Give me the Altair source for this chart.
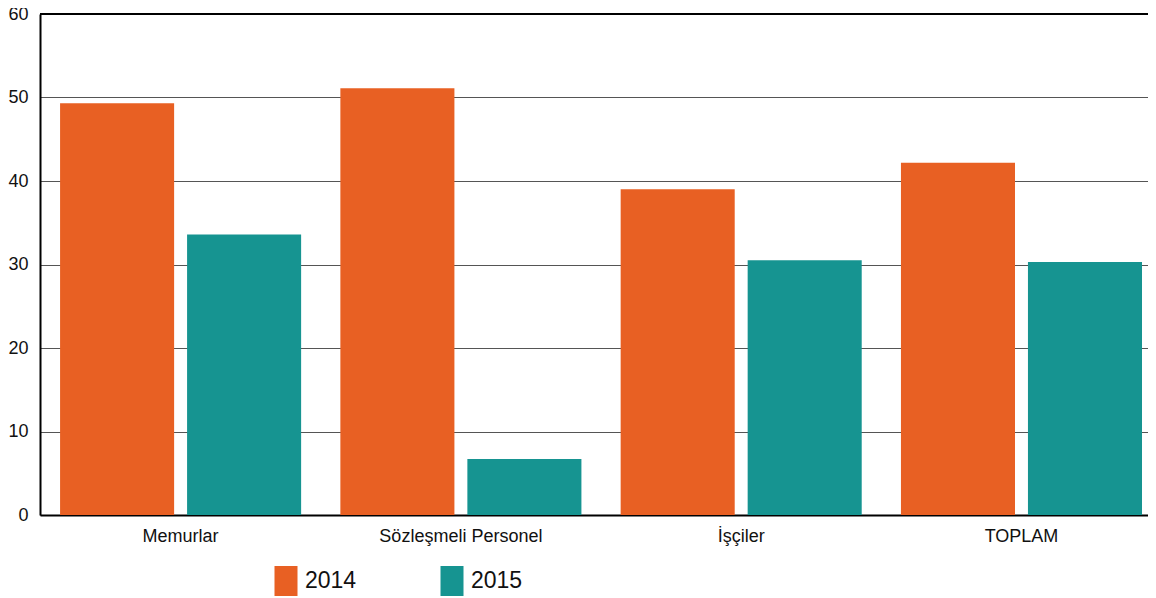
import altair as alt
import pandas as pd

categories = ["Memurlar", "Sözleşmeli Personel", "İşçiler", "TOPLAM"]
years = ["2014", "2015"]
values_2014 = [49.3, 51.1, 39.0, 42.2]
values_2015 = [33.6, 6.7, 30.5, 30.3]
colors = ["#E86023", "#169491"]

rows = []
for c, v in zip(categories, values_2014):
    rows.append({"cat": c, "year": "2014", "value": v})
for c, v in zip(categories, values_2015):
    rows.append({"cat": c, "year": "2015", "value": v})
df = pd.DataFrame(rows)

FONT = "Liberation Sans"
W = 1108

bars = alt.Chart(df).mark_bar().encode(
    x=alt.X("cat:N", sort=categories, title=None,
            scale=alt.Scale(paddingInner=0.14, paddingOuter=0.0465, align=0.77),
            axis=alt.Axis(labelAngle=0, ticks=False, labelPadding=12, labelFontSize=18,
                          labelColor="#111", labelFont=FONT, domainColor="black",
                          domainWidth=2, grid=False)),
    xOffset=alt.XOffset("year:N", sort=years,
                        scale=alt.Scale(paddingInner=0.102, paddingOuter=0)),
    y=alt.Y("value:Q", title=None,
            scale=alt.Scale(domain=[0, 60]),
            axis=alt.Axis(values=[0, 10, 20, 30, 40, 50, 60], ticks=False, labelPadding=12,
                          labelFontSize=18, labelColor="#111", labelFont=FONT,
                          domainColor="black", domainWidth=2, grid=True,
                          gridColor="#555", gridWidth=1)),
    color=alt.Color("year:N", sort=years,
                    scale=alt.Scale(domain=years, range=colors),
                    legend=alt.Legend(title=None, orient="none", direction="horizontal",
                                      legendX=231, legendY=552, padding=0,
                                      symbolType="M-0.767,-1H0.767V1H-0.767Z",
                                      symbolSize=900, symbolStrokeWidth=0,
                                      symbolOpacity=1, labelFontSize=23,
                                      labelFont=FONT, labelColor="#111",
                                      labelOffset=4, columnPadding=80)),
)

top = alt.Chart(df).mark_rule(color="black", strokeWidth=2).encode(
    y=alt.value(0), x=alt.value(0), x2=alt.value(W)
)

chart = alt.layer(bars, top).properties(
    width=W, height=501,
    padding={"left": 32, "top": 6, "right": 0, "bottom": 82},
    autosize=alt.AutoSizeParams(type="none"),
).configure_view(stroke=None).configure_axis(labelFont=FONT)

chart.save("out.html", embed_options={"renderer": "svg", "actions": False})
